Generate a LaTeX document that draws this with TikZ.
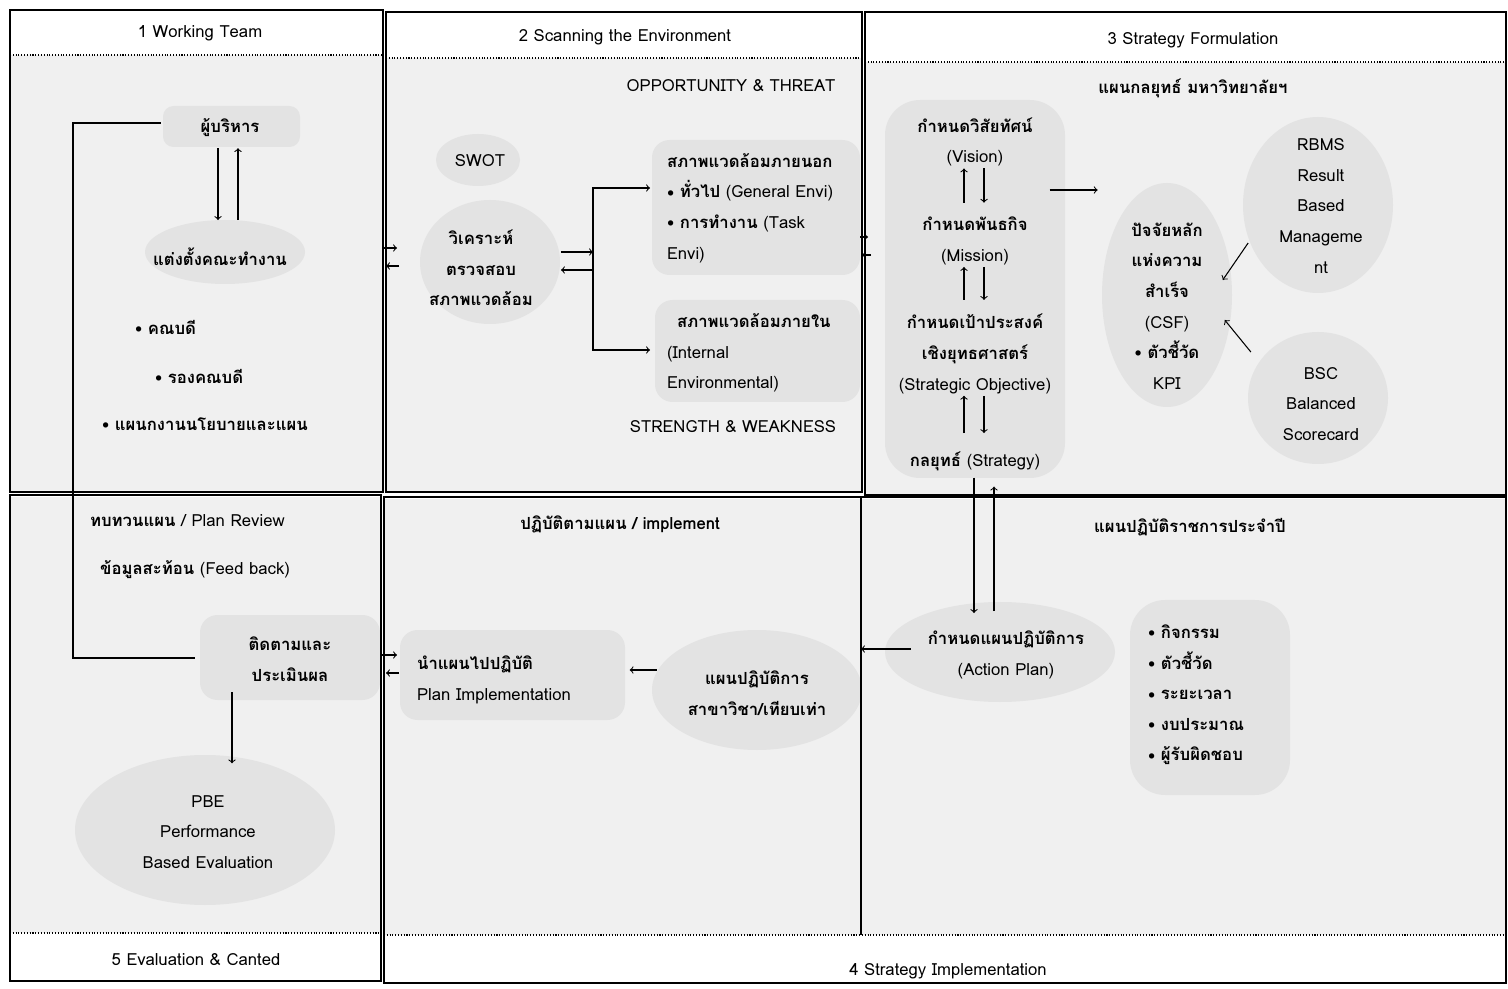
\documentclass[tikz,border=0pt]{standalone}
\usepackage{fontspec}
\setmainfont{Loma}[Script=Thai]
\usetikzlibrary{positioning,calc}

\newcommand{\bul}{\raisebox{0.2ex}{\scriptsize$\bullet$}\ }
\newcommand{\tb}[1]{{\bfseries #1}}

\tikzset{
  panel/.style={draw=black,line width=1.1pt},
  area/.style={fill=gray!12},
  blob/.style={fill=gray!22},
  headline/.style={densely dotted,line width=0.6pt},
  lbl/.style={font=\fontsize{9.5}{17.4}\selectfont,inner sep=1pt},
  txt/.style={lbl,align=center},
  ltxt/.style={lbl,align=left,anchor=west},
  link/.style={->,line width=0.6pt},
  gapdown/.style={link,shorten >=7pt},
  gapup/.style={link,shorten <=7pt},
}

\begin{document}
\begin{tikzpicture}[x=0.02cm,y=-0.02cm,>=to]
  \useasboundingbox (0,0) rectangle (1508,989);
  % panels
  \fill[area] (10,55) rectangle (383,492);
  \fill[area] (386,58) rectangle (862,492);
  \fill[area] (865,62) rectangle (1506,495);
  \fill[area] (10,497) rectangle (381,933);
  \fill[area] (384,499) rectangle (1506,935);
  % soft blobs behind the texts
  \fill[blob,rounded corners=6pt] (163,106) rectangle (300,147);
  \fill[blob] (225,252) ellipse (80 and 32);
  \fill[blob] (478,160) ellipse (42 and 26);
  \fill[blob] (490,262) ellipse (70 and 62);
  \fill[blob,rounded corners=10pt] (652,140) rectangle (860,275);
  \fill[blob,rounded corners=10pt] (655,300) rectangle (860,402);
  \fill[blob,rounded corners=20pt] (885,100) rectangle (1065,478);
  \fill[blob] (1167,295) ellipse (65 and 112);
  \fill[blob] (1318,205) ellipse (75 and 88);
  \fill[blob] (1318,398) ellipse (70 and 66);
  \fill[blob,rounded corners=10pt] (200,615) rectangle (380,700);
  \fill[blob] (205,830) ellipse (130 and 75);
  \fill[blob,rounded corners=10pt] (400,630) rectangle (625,720);
  \fill[blob] (757,690) ellipse (105 and 60);
  \fill[blob] (1000,652) ellipse (115 and 50);
  \fill[blob,rounded corners=20pt] (1130,600) rectangle (1290,795);
  % borders
  \draw[headline] (10,55) -- (383,55);
  \draw[headline] (386,58) -- (862,58);
  \draw[headline] (865,62) -- (1506,62);
  \draw[headline] (10,933) -- (381,933);
  \draw[headline] (384,935) -- (1506,935);
  \draw[panel] (10,10) rectangle (383,492);
  \draw[panel] (386,12) rectangle (862,492);
  \draw[panel] (865,12) rectangle (1506,495);
  \draw[panel] (10,495) rectangle (381,981);
  \draw[panel] (384,497) rectangle (1506,983);
  \draw[panel] (861,497) -- (861,935);

  % 1 working team
  \node[txt] (ttl1) at (200,33) {1 Working Team};
  \node[txt] (boss) at (230,128) {\tb{ผู้บริหาร}};
  \node[txt] (team) at (220,257) {\tb{แต่งตั้งคณะทำงาน}};
  \node[ltxt] (dean) at (133,327) {\bul\tb{คณบดี}};
  \node[ltxt] (vdean) at (153,376) {\bul\tb{รองคณบดี}};
  \node[ltxt] (pol) at (100,424) {\bul\tb{แผนกงานนโยบายและแผน}};
  \draw[link] ($(boss.south)+(-12,9)$) -- ($(team.north)+(-2,-26)$);
  \draw[link] ($(team.north)+(18,-26)$) -- ($(boss.south)+(8,9)$);

  % 2 scanning
  \node[txt] (ttl2) at (625,37) {2 Scanning the Environment};
  \node[txt] (opp) at (731,86) {OPPORTUNITY \& THREAT};
  \node[txt] (swot) at (480,161) {SWOT};
  \node[txt] (scan) at (481,268) {\tb{วิเคราะห์}\\\tb{ตรวจสอบ}\\\tb{สภาพแวดล้อม}};
  \node[ltxt] (ext) at (665,208) {\tb{สภาพแวดล้อมภายนอก}\\\bul\tb{ทั่วไป} (General Envi)\\\bul\tb{การทำงาน} (Task\\Envi)};
  \node[ltxt] (int) at (665,353) {\hspace*{0.2cm}\tb{สภาพแวดล้อมภายใน}\\(Internal\\Environmental)};
  \node[txt] (sw) at (733,427) {STRENGTH \& WEAKNESS};
  \coordinate (fork) at (593,261);
  \draw[link] ($(scan.east)+(26,-16)$) -- (fork |- 0,252);
  \draw[link] (fork |- 0,270) -- ($(scan.east)+(26,2)$);
  \draw[link] (fork) |- ($(ext.west)+(-15,-20)$);
  \draw[link] (fork) |- ($(int.west)+(-15,-3)$);

  % 3 strategy formulation
  \node[txt] (ttl3) at (1193,40) {3 Strategy Formulation};
  \node[txt] (uniplan) at (1193,88) {\tb{แผนกลยุทธ์ มหาวิทยาลัยฯ}};
  \node[txt] (vision) at (975,142) {\tb{กำหนดวิสัยทัศน์}\\(Vision)};
  \node[txt] (mission) at (975,241) {\tb{กำหนดพันธกิจ}\\(Mission)};
  \node[txt] (goal) at (975,354) {\tb{กำหนดเป้าประสงค์}\\\tb{เชิงยุทธศาสตร์}\\(Strategic Objective)};
  \node[txt] (strat) at (975,461) {\tb{กลยุทธ์} (Strategy)};
  \node[txt] (csf) at (1167,306) {\tb{ปัจจัยหลัก}\\\tb{แห่งความ}\\\tb{สำเร็จ}\\(CSF)\\\bul\tb{ตัวชี้วัด}\\KPI};
  \node[txt] (rbms) at (1321,206) {RBMS\\Result\\Based\\Manageme\\nt};
  \node[txt] (bsc) at (1321,404) {BSC\\Balanced\\Scorecard};
  \draw[gapup] ($(mission.north)+(-11,0)$) -- ($(vision.south)+(-11,0)$);
  \draw[gapdown] ($(vision.south)+(9,0)$) -- ($(mission.north)+(9,0)$);
  \draw[gapup] ($(goal.north)+(-11,0)$) -- ($(mission.south)+(-11,0)$);
  \draw[gapdown] ($(mission.south)+(9,0)$) -- ($(goal.north)+(9,0)$);
  \draw[gapup] ($(strat.north)+(-11,-4)$) -- ($(goal.south)+(-11,0)$);
  \draw[gapdown] ($(goal.south)+(9,0)$) -- ($(strat.north)+(9,-4)$);
  \draw[link] ($(vision.east)+(15,48)$) -- ++(48,0);
  \draw[link] ($(rbms.west)+(-29,37)$) -- ($(csf.east)+(18,-26)$);
  \draw[link] ($(bsc.west)+(-30,-52)$) -- ($(csf.east)+(20,14)$);

  % 4 strategy implementation
  \node[txt] (annual) at (1190,527) {\tb{แผนปฏิบัติราชการประจำปี}};
  \node[txt] (action) at (1006,655) {\tb{กำหนดแผนปฏิบัติการ}\\(Action Plan)};
  \node[ltxt] (items) at (1146,695) {\bul\tb{กิจกรรม}\\\bul\tb{ตัวชี้วัด}\\\bul\tb{ระยะเวลา}\\\bul\tb{งบประมาณ}\\\bul\tb{ผู้รับผิดชอบ}};
  \draw[link] ($(strat.south)+(-1,5)$) -- ($(action.north)+(-32,-16)$);
  \draw[link] ($(action.north)+(-12,-18)$) -- ($(strat.south)+(19,14)$);
  \node[txt] (impl) at (620,524) {\tb{ปฏิบัติตามแผน / implement}};
  \node[ltxt] (doplan) at (415,680) {\tb{นำแผนไปปฏิบัติ}\\Plan Implementation};
  \node[txt] (unitplan) at (757,693) {\tb{แผนปฏิบัติการ}\\\tb{สาขาวิชา/เทียบเท่า}};
  \draw[link] ($(unitplan.west)+(-29,-23)$) -- ++(-27,0);
  \node[txt] (ttl4) at (948,971) {4 Strategy Implementation};

  % 5 evaluation
  \node[ltxt] (review) at (88,521) {\tb{ทบทวนแผน} / Plan Review};
  \node[ltxt] (feedback) at (98,570) {\tb{ข้อมูลสะท้อน} (Feed back)};
  \node[txt] (monitor) at (290,659) {\tb{ติดตามและ}\\\tb{ประเมินผล}};
  \node[txt] (pbe) at (208,832) {PBE\\Performance\\Based Evaluation};
  \node[txt] (ttl5) at (196,960) {5 Evaluation \& Canted};
  \draw[link] ($(monitor.south)+(-58,9)$) -- ($(pbe.north)+(24,-30)$);
  \coordinate (fbcorner) at (73,123);
  \draw[line width=0.6pt] ($(boss.west)+(-38,-5)$) -- (fbcorner) |- ($(monitor.west)+(-51,-1)$);

  % arrows across the panel borders
  \coordinate (b12) at (385,257);
  \coordinate (b23) at (863,246);
  \coordinate (b54) at (385,664);
  \draw[link] ($(b12)+(-3,-9)$) -- ++(15,0);
  \draw[link] ($(b12)+(14,9)$) -- ++(-13,0);
  \draw[link] ($(b23)+(-3,-9)$) -- ++(8,0);
  \draw[link] ($(b23)+(8,9)$) -- ++(-9,0);
  \draw[link] ($(b54)+(-3,-9)$) -- ++(15,0);
  \draw[link] ($(b54)+(14,9)$) -- ++(-13,0);
  \draw[link] ($(action.west)+(-15,-6)$) -- (861,649);
\end{tikzpicture}
\end{document}
